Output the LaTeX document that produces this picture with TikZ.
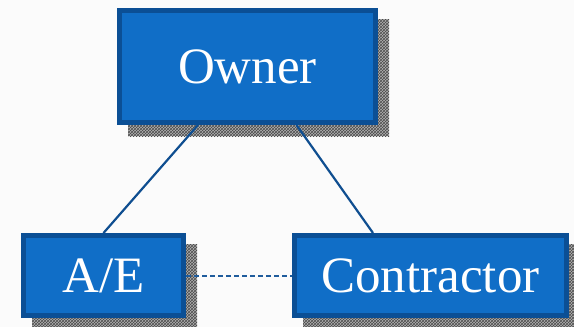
\documentclass[tikz,border=0pt]{standalone}
\usepackage{fontspec}
\setmainfont{Liberation Serif}
\usetikzlibrary{patterns,calc,backgrounds}
\definecolor{boxfill}{HTML}{106EC7}
\definecolor{boxedge}{HTML}{0B4F95}
\definecolor{linkblue}{HTML}{0F4E90}
\definecolor{dashblue}{HTML}{1F5C9C}
\definecolor{pagebg}{HTML}{FBFBFB}
\tikzset{
  party/.style={rectangle, draw=boxedge, line width=5pt, fill=boxfill,
    text=white, inner sep=0pt, font=\fontsize{51}{60}\selectfont},
  boxshadow/.style={fill=black!30, postaction={pattern=crosshatch, pattern color=black!70}},
  link/.style={draw=linkblue, line width=2.2pt},
  dottedlink/.style={draw=dashblue, line width=2pt, dash pattern=on 5pt off 3pt}
}
\begin{document}
\begin{tikzpicture}[x=1pt,y=-1pt]
  \useasboundingbox (0,0) rectangle (574,327);

  % the three parties
  \node[party, minimum width=256pt, minimum height=112pt] (owner) at (247.5,66.5) {Owner};
  \node[party, minimum width=160pt, minimum height=80pt] (ae) at (103.5,275.5) {A/E};
  \node[party, minimum width=272pt, minimum height=80pt] (con) at (430.5,275.5) {Contractor};

  % page and drop shadows behind the boxes
  \begin{scope}[on background layer]
    \fill[pagebg] (0,0) rectangle (574,327);
    \foreach \b in {owner,ae,con}
      \path[boxshadow] ($(\b.north west)+(11,11)$) rectangle ($(\b.south east)+(11,11)$);
  \end{scope}

  % contract relationships
  \coordinate (ownerL) at ($(owner.south)+(-49.5,0)$);
  \coordinate (ownerR) at ($(owner.south)+(49,0)$);
  \coordinate (conTop) at ($(con.north)+(-57.5,0)$);
  \draw[link] (ownerL) -- (ae.north);
  \draw[link] (ownerR) -- (conTop);

  % communication only
  \draw[dottedlink] (ae.east) -- (con.west);
\end{tikzpicture}
\end{document}
